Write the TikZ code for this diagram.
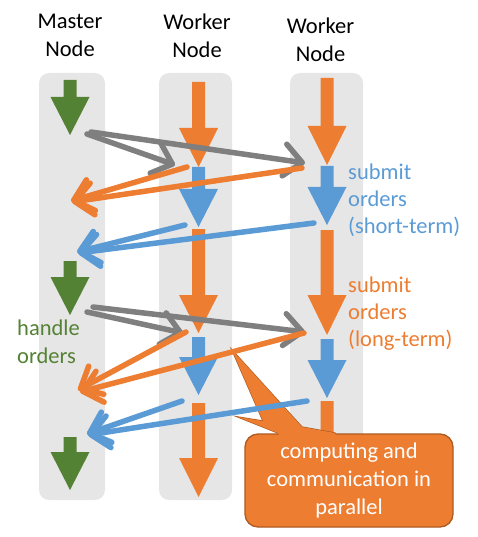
\documentclass[tikz,border=0pt]{standalone}
\usepackage{fontspec}
\setmainfont{Carlito}
\usetikzlibrary{arrows.meta}
\definecolor{corange}{HTML}{ED7D31}
\definecolor{cblue}{HTML}{5B9BD5}
\definecolor{cgreen}{HTML}{548235}
\definecolor{cgray}{HTML}{7F7F7F}
\definecolor{ccol}{HTML}{E7E6E6}
\definecolor{cborder}{HTML}{AE5A21}
\newcommand{\blkarrow}[5]{\fill[#1] ({#2-6.5},#3) -- ({#2+6.5},#3) -- ({#2+6.5},#4) -- ({#2+19.5},#4) -- (#2,#5) -- ({#2-19.5},#4) -- ({#2-6.5},#4) -- cycle;}
\begin{document}
\begin{tikzpicture}[x=1pt,y=-1pt,
  lane/.style={fill=ccol, rounded corners=10pt},
  diag/.style={line width=5.5pt, line cap=round, -{Straight Barb[length=18pt,width=32pt,round]}},
  txt/.style={font=\fontsize{22.5}{27}\selectfont, inner sep=0pt, align=left, anchor=west},
  title/.style={font=\fontsize{22.5}{28}\selectfont, inner sep=0pt, align=center},
  cbox/.style={fill=corange, draw=cborder, line width=1.3pt, rounded corners=13pt, minimum width=208pt, minimum height=93pt, inner sep=0pt, align=center, text=white, font=\fontsize{22.5}{28}\selectfont},
]
\useasboundingbox (0,0) rectangle (478,537);
% lanes
\fill[lane] (39,73) rectangle (105,500);
\fill[lane] (159,73) rectangle (232,500);
\fill[lane] (290,73) rectangle (363,500);
% titles
\node[title] (tm) at (70,35.75) {Master\\Node};
\node[title] (tw1) at (197,35.5) {Worker\\Node};
\node[title] (tw2) at (320.5,39.5) {Worker\\Node};
% block arrows master
\blkarrow{cgreen}{70}{80}{97}{135}
\blkarrow{cgreen}{70}{261}{277}{315}
\blkarrow{cgreen}{70}{437}{452}{490}
% worker 1
\blkarrow{corange}{198.5}{82}{128}{167}
\blkarrow{cblue}{198.5}{167}{189}{227}
\blkarrow{corange}{198.5}{229}{295}{333}
\blkarrow{cblue}{198.5}{337}{357}{395}
\blkarrow{corange}{198.5}{403}{458}{497}
% worker 2
\blkarrow{corange}{327}{78}{126}{165}
\blkarrow{cblue}{327}{166}{187}{225}
\blkarrow{corange}{327}{230}{295}{335}
\blkarrow{cblue}{327}{339}{360}{398}
\blkarrow{corange}{327}{401}{458}{497}
% callout
\coordinate (ptip) at (232,350);
\filldraw[fill=corange, draw=cborder, line width=1.3pt] (ptip) -- (263,421) -- (238,417) -- (278,433) -- (281,440) -- (338,440) -- (335,433) -- (302,427) -- cycle;
\node[cbox] (cb) at (349,480.5) {computing and\\communication in\\parallel};
\fill[corange] (ptip) -- (263,421) -- (238,417) -- (278,433) -- (281,440) -- (338,440) -- (335,433) -- (302,427) -- cycle;
% labels
\node[txt, text=cblue] (lshort) at (348,199.75) {submit\\orders\\(short-term)};
\node[txt, text=corange] (llong) at (348,313.5) {submit\\orders\\(long-term)};
\node[txt, text=cgreen, font=\fontsize{22.5}{28}\selectfont] (lhandle) at (17,342) {handle\\orders};
% coordinates
\coordinate (g1s) at (87,134); \coordinate (g1e) at (175,165);
\coordinate (g2s) at (91,132); \coordinate (g2e) at (305,163);
\coordinate (o1s) at (187,167); \coordinate (o1e) at (71,201);
\coordinate (o2s) at (302,168); \coordinate (o2e) at (72,202);
\coordinate (b1s) at (185,225); \coordinate (b1e) at (77,252);
\coordinate (b2s) at (314,223); \coordinate (b2e) at (78,253);
\coordinate (g3s) at (87,312); \coordinate (g3e) at (183,333);
\coordinate (g4s) at (93,307); \coordinate (g4e) at (305,332);
\coordinate (o3s) at (186,332); \coordinate (o3e) at (78,390);
\coordinate (o4s) at (304,333); \coordinate (o4e) at (80,392);
\coordinate (b3s) at (182,401); \coordinate (b3e) at (87,434);
\coordinate (b4s) at (307,401); \coordinate (b4e) at (88,435);
% diagonal connectors
\draw[diag, cgray] (g1s) -- (g1e);
\draw[diag, cgray] (g2s) -- (g2e);
\draw[diag, corange] (o1s) -- (o1e);
\draw[diag, corange] (o2s) -- (o2e);
\draw[diag, cblue] (b1s) -- (b1e);
\draw[diag, cblue] (b2s) -- (b2e);
\draw[diag, cgray] (g3s) -- (g3e);
\draw[diag, cgray] (g4s) -- (g4e);
\draw[diag, corange] (o3s) -- (o3e);
\draw[diag, corange] (o4s) -- (o4e);
\draw[diag, cblue] (b3s) -- (b3e);
\draw[diag, cblue] (b4s) -- (b4e);
\end{tikzpicture}
\end{document}
